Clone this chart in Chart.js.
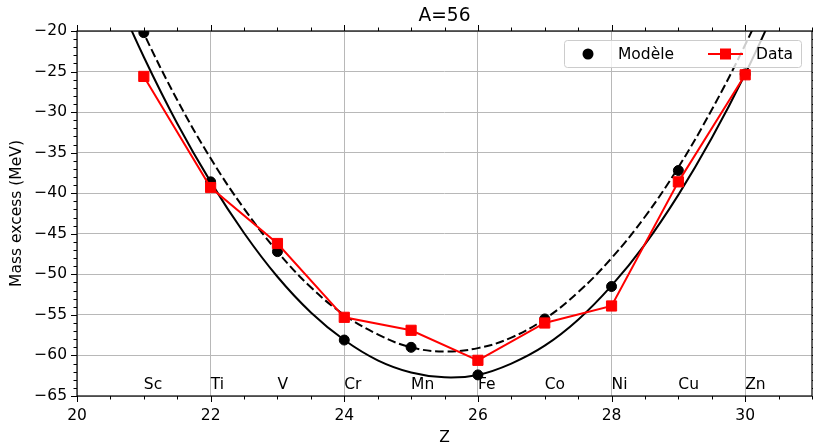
<!DOCTYPE html>
<html>
<head>
<meta charset="utf-8">
<script src="https://cdn.jsdelivr.net/npm/chart.js@4/dist/chart.umd.min.js"></script>
<style>
html,body{margin:0;padding:0;background:#fff;}
canvas{display:block;}
</style>
</head>
<body>
<canvas id="c" width="813" height="444"></canvas>
<script>
// ---- data ----
const titleText = 'A=56';
const Z = [21, 22, 23, 24, 25, 26, 27, 28, 29, 30];
const elements = ['Sc', 'Ti', 'V', 'Cr', 'Mn', 'Fe', 'Co', 'Ni', 'Cu', 'Zn'];
const modele = [-20.2, -38.6, -47.2, -58.1, -59.0, -62.4, -55.5, -51.5, -37.2, -25.3];
const dataVals = [-25.6, -39.3, -46.2, -55.3, -56.9, -60.6, -56.0, -53.9, -38.6, -25.4];
// smooth model curves (solid = even-even, dashed = odd-odd)
const curveZ = [20.5, 21, 21.5, 22, 22.5, 23, 23.5, 24, 24.5, 25, 25.5, 26, 26.5, 27, 27.5, 28, 28.5, 29, 29.5, 30, 30.5];
const curveSolid = [-14.1, -23.2, -31.4, -38.6, -44.9, -50.3, -54.7, -58.1, -60.6, -62.1, -62.7, -62.4, -61.0, -58.8, -55.6, -51.4, -46.3, -40.2, -33.2, -25.3, -16.4];
const curveDashed = [-11.2, -20.3, -28.5, -35.7, -41.9, -47.2, -51.6, -55.0, -57.4, -59.0, -59.5, -59.1, -57.8, -55.5, -52.2, -48.0, -42.9, -36.8, -29.7, -21.7, -12.8];
const xTicks = [20, 22, 24, 26, 28, 30];
const yTicks = [-65, -60, -55, -50, -45, -40, -35, -30, -25, -20];
const xRange = [20, 31];
const yRange = [-65, -20];

const FONT = '"DejaVu Sans", "Liberation Sans", sans-serif';
const fmt = v => (v < 0 ? '\u2212' + Math.abs(v) : String(v));

const pts = (xs, ys) => xs.map((x, i) => ({ x: x, y: ys[i] }));

const decorPlugin = {
  id: 'decor',
  afterDatasetsDraw(chart) {
    const ctx = chart.ctx;
    const xs = chart.scales.x, ys = chart.scales.y;
    ctx.save();
    // element labels
    ctx.fillStyle = '#000';
    ctx.font = '15.5px ' + FONT;
    ctx.textAlign = 'left';
    ctx.textBaseline = 'alphabetic';
    const ly = ys.getPixelForValue(-64.1);
    Z.forEach((z, i) => {
      ctx.fillText(elements[i], xs.getPixelForValue(z), ly);
    });
    ctx.restore();
  },
  afterDraw(chart) {
    const ctx = chart.ctx;
    const a = chart.chartArea;
    const xs = chart.scales.x, ys = chart.scales.y;
    ctx.save();
    // frame
    ctx.strokeStyle = '#000';
    ctx.lineWidth = 1.2;
    ctx.strokeRect(a.left, a.top, a.right - a.left, a.bottom - a.top);
    // ticks (outward) on all four sides
    ctx.lineWidth = 1;
    const majL = 6, minL = 3.5;
    ctx.beginPath();
    for (let v = xRange[0]; v <= xRange[1] + 1e-9; v += 0.5) {
      const px = Math.round(xs.getPixelForValue(v)) + 0.5;
      const L = xTicks.includes(v) ? majL : minL;
      ctx.moveTo(px, a.bottom); ctx.lineTo(px, a.bottom + L);
      ctx.moveTo(px, a.top); ctx.lineTo(px, a.top - L);
    }
    for (let v = yRange[0]; v <= yRange[1] + 1e-9; v += 1) {
      const py = Math.round(ys.getPixelForValue(v)) + 0.5;
      const L = yTicks.includes(v) ? majL : minL;
      ctx.moveTo(a.left, py); ctx.lineTo(a.left - L, py);
      ctx.moveTo(a.right, py); ctx.lineTo(a.right + L, py);
    }
    ctx.stroke();

    // title
    ctx.fillStyle = '#000';
    ctx.textAlign = 'center';
    ctx.textBaseline = 'alphabetic';
    ctx.font = '18.6px ' + FONT;
    ctx.fillText(titleText, (a.left + a.right) / 2, 21);
    // axis labels
    ctx.font = '15.5px ' + FONT;
    ctx.fillText('Z', (a.left + a.right) / 2, 442);
    ctx.save();
    ctx.translate(21, (a.top + a.bottom) / 2);
    ctx.rotate(-Math.PI / 2);
    ctx.fillText('Mass excess (MeV)', 0, 0);
    ctx.restore();

    // legend
    const lx = 564, lyTop = 40, lw = 237, lh = 27;
    ctx.beginPath();
    if (ctx.roundRect) ctx.roundRect(lx + 0.5, lyTop + 0.5, lw, lh, 3); else ctx.rect(lx + 0.5, lyTop + 0.5, lw, lh);
    ctx.fillStyle = 'rgba(255,255,255,0.8)';
    ctx.fill();
    ctx.strokeStyle = '#cccccc';
    ctx.lineWidth = 1;
    ctx.stroke();
    const cy = lyTop + lh / 2 + 0.5;
    ctx.fillStyle = '#000';
    ctx.beginPath();
    ctx.arc(588, cy, 5.5, 0, Math.PI * 2);
    ctx.fill();
    ctx.textAlign = 'left';
    ctx.textBaseline = 'middle';
    ctx.font = '15.5px ' + FONT;
    ctx.fillText('Mod\u00e8le', 618, cy + 1);
    ctx.strokeStyle = '#ff0000';
    ctx.lineWidth = 2;
    ctx.beginPath();
    ctx.moveTo(708, cy); ctx.lineTo(743, cy);
    ctx.stroke();
    ctx.fillStyle = '#ff0000';
    ctx.fillRect(725.5 - 5.5, cy - 5.5, 11, 11);
    ctx.fillStyle = '#000';
    ctx.fillText('Data', 756, cy + 1);
    ctx.restore();
  }
};

new Chart(document.getElementById('c'), {
  type: 'scatter',
  data: {
    datasets: [
      {
        label: 'Data',
        data: pts(Z, dataVals),
        showLine: true,
        borderColor: '#ff0000',
        backgroundColor: '#ff0000',
        borderWidth: 2,
        pointStyle: 'rect',
        pointRadius: 7.2,
        pointBorderWidth: 1,
        pointBorderColor: '#ff0000',
        pointBackgroundColor: '#ff0000',
        clip: 0,
        order: 0
      },
      {
        label: 'Mod\u00e8le',
        data: pts(Z, modele),
        showLine: false,
        pointStyle: 'circle',
        pointRadius: 5,
        pointBorderWidth: 1,
        pointBorderColor: '#000',
        pointBackgroundColor: '#000',
        clip: 0,
        order: 1
      },
      {
        label: 'pair',
        data: pts(curveZ, curveSolid),
        showLine: true,
        borderColor: '#000',
        borderWidth: 2,
        pointRadius: 0,
        tension: 0.4,
        clip: 0,
        order: 2
      },
      {
        label: 'impair',
        data: pts(curveZ, curveDashed),
        showLine: true,
        borderColor: '#000',
        borderWidth: 2,
        borderDash: [8.6, 3.7],
        pointRadius: 0,
        tension: 0.4,
        clip: 0,
        order: 3
      }
    ]
  },
  options: {
    responsive: false,
    animation: false,
    devicePixelRatio: 1,
    layout: { autoPadding: false, padding: { top: 31, right: 1, left: 0, bottom: 0 } },
    plugins: { legend: { display: false }, tooltip: { enabled: false }, title: { display: false } },
    scales: {
      x: {
        type: 'linear',
        min: xRange[0], max: xRange[1],
        afterBuildTicks: s => { s.ticks = xTicks.map(v => ({ value: v })); },
        afterFit: s => { s.height = 48; s.paddingLeft = 0; s.paddingRight = 0; },
        ticks: { color: '#000', font: { family: FONT, size: 15.5 }, padding: 11, maxRotation: 0, callback: v => fmt(v) },
        grid: { color: '#b8b8b8', lineWidth: 1, drawTicks: false },
        border: { display: false }
      },
      y: {
        type: 'linear',
        min: yRange[0], max: yRange[1],
        afterBuildTicks: s => { s.ticks = yTicks.map(v => ({ value: v })); },
        afterFit: s => { s.width = 77; s.paddingTop = 0; s.paddingBottom = 0; },
        ticks: { color: '#000', font: { family: FONT, size: 15.5 }, padding: 10, callback: v => fmt(v) },
        grid: { color: '#b8b8b8', lineWidth: 1, drawTicks: false },
        border: { display: false }
      }
    }
  },
  plugins: [decorPlugin]
});
</script>
</body>
</html>
